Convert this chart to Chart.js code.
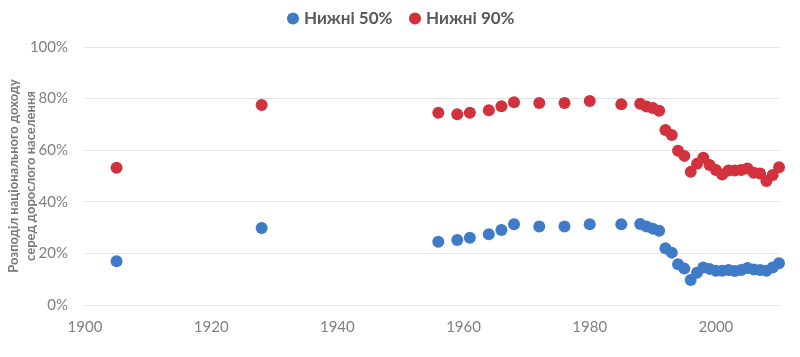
<!DOCTYPE html>
<html>
<head>
<meta charset="utf-8">
<script src="https://cdn.jsdelivr.net/npm/chart.js@4/dist/chart.umd.min.js"></script>
<style>
html,body{margin:0;padding:0;background:#fff;}
#wrap{width:800px;height:357px;position:relative;}
</style>
</head>
<body>
<div id="wrap"><canvas id="c" width="800" height="357"></canvas></div>
<script>
const years = [1905, 1928, 1956, 1959, 1961, 1964, 1966, 1968, 1972, 1976, 1980, 1985, 1988, 1989, 1990, 1991, 1992, 1993, 1994, 1995, 1996, 1997, 1998, 1999, 2000, 2001, 2002, 2003, 2004, 2005, 2006, 2007, 2008, 2009, 2010];
const bottom50 = [17.0, 29.8, 24.5, 25.2, 26.1, 27.4, 29.1, 31.3, 30.4, 30.4, 31.3, 31.3, 31.4, 30.4, 29.6, 28.8, 22.0, 20.3, 15.8, 14.1, 9.7, 12.5, 14.5, 14.0, 13.3, 13.3, 13.6, 13.2, 13.6, 14.3, 13.8, 13.6, 13.3, 14.5, 16.2];
const bottom90 = [53.2, 77.5, 74.5, 73.9, 74.5, 75.5, 77.0, 78.6, 78.3, 78.3, 79.1, 77.8, 78.0, 76.9, 76.4, 75.3, 67.8, 65.9, 59.8, 57.8, 51.6, 54.7, 57.1, 54.3, 52.3, 50.6, 52.1, 52.1, 52.3, 52.9, 51.3, 51.0, 48.1, 50.4, 53.4];
const seriesNames = ['Нижні 50%', 'Нижні 90%'];
const xTicks = [1900, 1920, 1940, 1960, 1980, 2000];
const yTicks = [0, 20, 40, 60, 80, 100];
const yTitle = ['Розподіл національного доходу', 'серед дорослого населення'];

const BLUE = '#3f7bc7';
const RED = '#d1323d';

const legendSpacer = {
  id: 'legendSpacer',
  beforeLayout(chart) {
    const lg = chart.legend;
    if (lg && !lg._patched) {
      const origFit = lg.fit;
      lg.fit = function () { origFit.call(this); this.height -= 1; };
      const origDraw = lg.draw;
      lg.draw = function () {
        const ctx = this.ctx;
        ctx.save();
        ctx.translate(13, -11);
        origDraw.call(this);
        ctx.restore();
      };
      lg._patched = true;
    }
  }
};

new Chart(document.getElementById('c'), {
  type: 'scatter',
  data: {
    datasets: [
      {
        label: seriesNames[0],
        data: years.map((y, i) => ({x: y, y: bottom50[i]})),
        backgroundColor: BLUE,
        borderColor: BLUE,
        pointRadius: 6,
        pointBorderWidth: 0,
        clip: false
      },
      {
        label: seriesNames[1],
        data: years.map((y, i) => ({x: y, y: bottom90[i]})),
        backgroundColor: RED,
        borderColor: RED,
        pointRadius: 6,
        pointBorderWidth: 0,
        clip: false
      }
    ]
  },
  plugins: [legendSpacer],
  options: {
    responsive: false,
    animation: false,
    layout: {padding: {left: 0, right: 21, top: 1, bottom: 12}},
    plugins: {
      tooltip: {enabled: false},
      legend: {
        position: 'top',
        labels: {
          usePointStyle: true,
          pointStyle: 'circle',
          boxWidth: 5,
          boxHeight: 8.5,
          padding: 20,
          color: '#595959',
          font: {family: 'Lato', size: 17, weight: 'bold'}
        }
      }
    },
    scales: {
      x: {
        type: 'linear',
        min: 1900,
        max: 2010,
        afterBuildTicks: s => { s.ticks = xTicks.map(v => ({value: v})); },
        afterFit: s => { s.height = 40; },
        grid: {display: false, drawTicks: false},
        border: {display: false},
        ticks: {
          padding: 13,
          color: '#808080',
          font: {family: 'Lato', size: 15},
          callback: v => String(v)
        }
      },
      y: {
        min: 0,
        max: 100,
        afterBuildTicks: s => { s.ticks = yTicks.map(v => ({value: v})); },
        afterFit: s => { s.width = 85; },
        grid: {color: '#e3e3e3', drawTicks: false, lineWidth: 1},
        border: {display: false},
        ticks: {
          padding: 17,
          color: '#808080',
          font: {family: 'Lato', size: 15},
          callback: v => v + '%'
        },
        title: {
          display: true,
          text: yTitle,
          color: '#7a7a7a',
          font: {family: 'Lato', size: 13, weight: 'bold', lineHeight: 1.3},
          padding: {top: 5, bottom: 0}
        }
      }
    }
  }
});
</script>
</body>
</html>
